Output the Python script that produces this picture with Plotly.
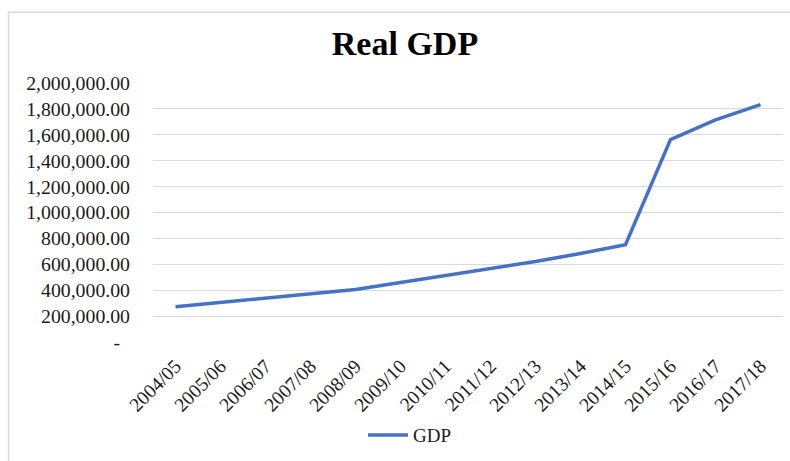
import plotly.graph_objects as go

years = ["2004/05", "2005/06", "2006/07", "2007/08", "2008/09", "2009/10", "2010/11",
         "2011/12", "2012/13", "2013/14", "2014/15", "2015/16", "2016/17", "2017/18"]
gdp = [272000, 304000, 340000, 374000, 405000, 460000, 515000,
       566000, 621000, 684000, 752000, 1563000, 1715000, 1833000]

ytick_vals = [0, 200000, 400000, 600000, 800000, 1000000, 1200000, 1400000, 1600000, 1800000, 2000000]
ytick_text = ["-\u00a0\u00a0"] + [f"{v:,.2f}" for v in ytick_vals[1:]]

FONT = "Liberation Serif, Times New Roman, serif"

fig = go.Figure()
fig.add_trace(go.Scatter(x=years, y=gdp, mode="lines", name="GDP",
                         line=dict(color="#4472C4", width=3.5)))

fig.update_layout(
    width=790, height=461,
    margin=dict(l=153, r=7, t=83, b=114),
    paper_bgcolor="white", plot_bgcolor="white",
    font=dict(family=FONT, size=19, color="#1a1a1a"),
    title=dict(text="<b>Real GDP</b>", font=dict(family=FONT, size=34, color="#000000"),
               x=405/790, xref="container", xanchor="center",
               y=1 - 43/461, yref="container", yanchor="middle"),
    showlegend=True,
    legend=dict(orientation="h", x=(410 - 153) / 630, xanchor="center",
                y=(347 - 442) / 264, yanchor="middle", itemwidth=40,
                font=dict(family=FONT, size=19, color="#1a1a1a")),
    xaxis=dict(type="category", range=[-0.5, 13.5], tickangle=-45, showgrid=False,
               showline=False, zeroline=False, ticks="", ticklabelstandoff=8,
               tickfont=dict(size=19.5)),
    yaxis=dict(range=[0, 2000000], tickvals=ytick_vals, ticktext=ytick_text,
               showgrid=True, gridcolor="#d9d9d9", gridwidth=1, zeroline=False,
               showline=False, ticks="", ticklabelstandoff=22, tickfont=dict(size=19.8)),
    shapes=[dict(type="rect", xref="paper", yref="paper",
                 x0=(8.5 - 153) / 630, x1=(800 - 153) / 630,
                 y0=(347 - 480) / 264, y1=1 + (83 - 11) / 264,
                 line=dict(color="#d9d9d9", width=1.5), fillcolor="rgba(0,0,0,0)", layer="below")],
)

fig.write_html("out.html")
